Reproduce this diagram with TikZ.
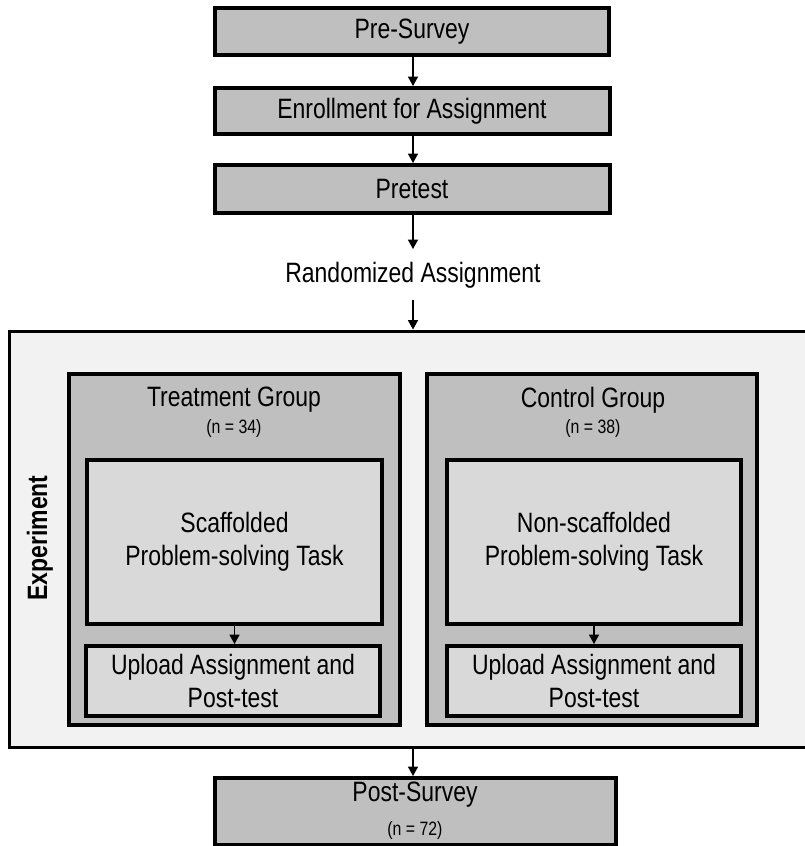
\documentclass[tikz,border=0pt]{standalone}
\usepackage{fontspec}
\setmainfont{Liberation Sans}[FakeStretch=0.82]
\usetikzlibrary{arrows.meta}
\definecolor{boxgray}{HTML}{BFBFBF}
\definecolor{innergray}{HTML}{D9D9D9}
\definecolor{expgray}{HTML}{F2F2F2}
\begin{document}
\begin{tikzpicture}[x=0.75pt,y=-0.75pt,
  bigtext/.style={font=\fontsize{21}{25}\selectfont},
  smalltext/.style={font=\fontsize{14.5}{17}\selectfont},
  topbox/.style={draw=black,fill=boxgray,line width=3pt,inner sep=0pt,bigtext},
  groupbox/.style={draw=black,fill=boxgray,line width=3pt,inner sep=0pt},
  innerbox/.style={draw=black,fill=innergray,line width=3pt,inner sep=0pt,align=center,bigtext},
  expbox/.style={draw=black,fill=expgray,line width=2.25pt,inner sep=0pt},
  arr/.style={line width=1pt,-{Triangle[width=7.5pt,length=7pt]}}]
\useasboundingbox (0,0) rectangle (805,846);
\clip (0,0) rectangle (805,846);
% top boxes
\node[topbox,minimum width=394*0.75pt,minimum height=47*0.75pt] (pre) at (412,31.5) {Pre-Survey};
\node[topbox,minimum width=395*0.75pt,minimum height=46*0.75pt] (enr) at (412,111) {Enrollment for Assignment};
\node[topbox,minimum width=395*0.75pt,minimum height=48*0.75pt] (pret) at (412,189) {Pretest};
\node[bigtext,inner sep=0pt] (rand) at (413,275) {Randomized Assignment};
\coordinate (randin) at (413,249);
\coordinate (randout) at (413,300);
% experiment box
\node[expbox,minimum width=821*0.75pt,minimum height=416*0.75pt] (exp) at (419.5,539) {};
\node[bigtext,font=\fontsize{21}{25}\selectfont\bfseries,rotate=90,inner sep=0pt] (explabel) at (40,538) {Experiment};
% groups
\node[groupbox,minimum width=331*0.75pt,minimum height=351*0.75pt] (tg) at (234.5,549.5) {};
\node[groupbox,minimum width=330*0.75pt,minimum height=351*0.75pt] (cg) at (592,549.5) {};
\node[bigtext,inner sep=0pt] (tgt) at (234,400) {Treatment Group};
\node[smalltext,inner sep=0pt] (tgn) at (234,428) {(n = 34)};
\node[bigtext,inner sep=0pt] (cgt) at (593,400) {Control Group};
\node[smalltext,inner sep=0pt] (cgn) at (593,428) {(n = 38)};
\node[innerbox,minimum width=295*0.75pt,minimum height=164*0.75pt] (task1) at (234.5,542) {Scaffolded\\Problem-solving Task};
\node[innerbox,minimum width=294*0.75pt,minimum height=70*0.75pt] (up1) at (233,681) {Upload Assignment and\\Post-test};
\node[innerbox,minimum width=294*0.75pt,minimum height=164*0.75pt] (task2) at (594,542) {Non-scaffolded\\Problem-solving Task};
\node[innerbox,minimum width=294*0.75pt,minimum height=70*0.75pt] (up2) at (594,681) {Upload Assignment and\\Post-test};
% post survey
\node[topbox,minimum width=401*0.75pt,minimum height=67*0.75pt] (post) at (415.5,811.5) {};
\node[bigtext,inner sep=0pt] (postt) at (415,795) {Post-Survey};
\node[smalltext,inner sep=0pt] (postn) at (415,830) {(n = 72)};
% arrows
\draw[arr] (pre.south -| rand) -- (enr.north -| rand);
\draw[arr] (enr.south -| rand) -- (pret.north -| rand);
\draw[arr] (pret.south -| rand) -- (randin);
\draw[arr] (randout) -- (exp.north -| rand);
\draw[arr] (task1.south) -- (up1.north -| task1.south);
\draw[arr] (task2.south) -- (up2.north);
\draw[arr] (exp.south -| rand) -- (post.north -| rand);
\end{tikzpicture}
\end{document}
